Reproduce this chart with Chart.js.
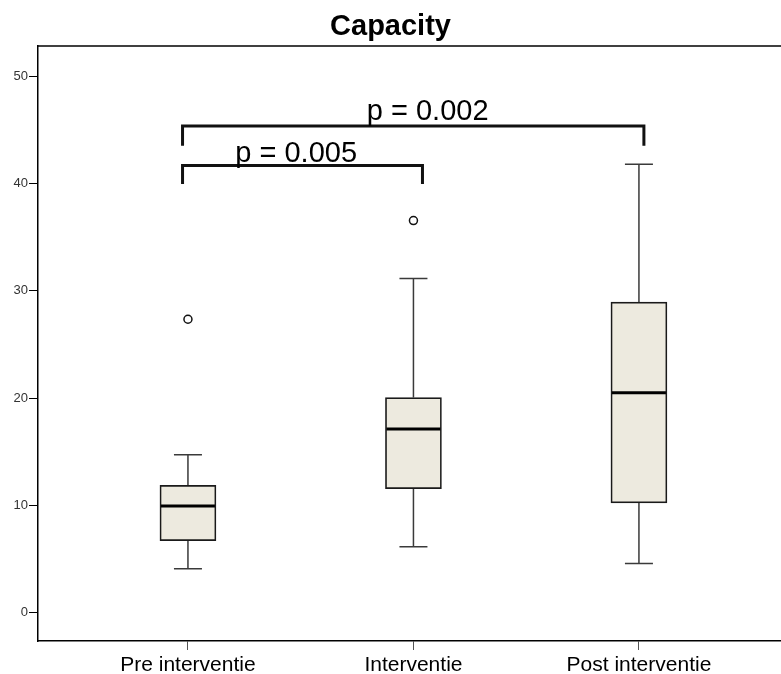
<!DOCTYPE html>
<html>
<head>
<meta charset="utf-8">
<script src="https://cdn.jsdelivr.net/npm/chart.js@4.4.1/dist/chart.umd.min.js"></script>
<style>
    body { margin: 0; background: #fff; }
    #wrap { width: 781px; height: 674px; }
</style>
</head>
<body>
<div id="wrap"><canvas id="capacityChart" width="781" height="674"></canvas></div>
<script>
const categories = ['Pre interventie', 'Interventie', 'Post interventie'];
const whiskerLow = [4.1, 6.15, 4.57];
const quartile1 = [6.71, 11.56, 10.22];
const medians = [9.94, 17.12, 20.5];
const quartile3 = [11.87, 20.04, 28.93];
const whiskerHigh = [14.72, 31.13, 41.79];
const outlierGroup = [0, 1];
const outlierValues = [27.34, 36.53];
const yTicks = [0, 10, 20, 30, 40, 50];

// significance brackets
const bracketLeft = [-0.024, -0.024];
const bracketRight = [1.04, 2.022];
const bracketTop = [41.66, 45.35];
const bracketBottom = [39.95, 43.5];
const pLabels = ['p = 0.005', 'p = 0.002'];
const pLabelX = [0.21, 0.793];
const pLabelY = [41.98, 45.92];

const fontFamily = '"Liberation Sans", Arial, Helvetica, sans-serif';
Chart.defaults.font.family = fontFamily;

const boxWidth = 56;
const capWidth = 28;

const boxplotExtras = {
    id: 'boxplotExtras',
    beforeDatasetsDraw(chart) {
        const { ctx, scales: { x, y } } = chart;
        ctx.save();
        ctx.strokeStyle = '#3a3a3a';
        ctx.lineWidth = 1.5;
        categories.forEach((_, i) => {
            const cx = x.getPixelForValue(i);
            ctx.beginPath();
            ctx.moveTo(cx, y.getPixelForValue(quartile3[i]));
            ctx.lineTo(cx, y.getPixelForValue(whiskerHigh[i]));
            ctx.moveTo(cx, y.getPixelForValue(quartile1[i]));
            ctx.lineTo(cx, y.getPixelForValue(whiskerLow[i]));
            ctx.moveTo(cx - capWidth / 2, y.getPixelForValue(whiskerHigh[i]));
            ctx.lineTo(cx + capWidth / 2, y.getPixelForValue(whiskerHigh[i]));
            ctx.moveTo(cx - capWidth / 2, y.getPixelForValue(whiskerLow[i]));
            ctx.lineTo(cx + capWidth / 2, y.getPixelForValue(whiskerLow[i]));
            ctx.stroke();
        });
        ctx.restore();
    },
    afterDatasetsDraw(chart) {
        const { ctx, chartArea, scales: { x, y } } = chart;
        ctx.save();

        ctx.strokeStyle = '#000';
        ctx.lineWidth = 3;
        medians.forEach((m, i) => {
            const cx = x.getPixelForValue(i);
            const my = y.getPixelForValue(m);
            ctx.beginPath();
            ctx.moveTo(cx - boxWidth / 2 + 1, my);
            ctx.lineTo(cx + boxWidth / 2 - 1, my);
            ctx.stroke();
        });

        ctx.strokeStyle = '#111';
        ctx.lineWidth = 3;
        ctx.lineJoin = 'miter';
        pLabels.forEach((label, i) => {
            const x1 = x.getPixelForValue(bracketLeft[i]);
            const x2 = x.getPixelForValue(bracketRight[i]);
            const top = y.getPixelForValue(bracketTop[i]);
            const bottom = y.getPixelForValue(bracketBottom[i]);
            ctx.beginPath();
            ctx.moveTo(x1, bottom);
            ctx.lineTo(x1, top);
            ctx.lineTo(x2, top);
            ctx.lineTo(x2, bottom);
            ctx.stroke();
        });

        ctx.fillStyle = '#000';
        ctx.font = '29px ' + fontFamily;
        ctx.textAlign = 'left';
        ctx.textBaseline = 'alphabetic';
        pLabels.forEach((label, i) => {
            ctx.fillText(label, x.getPixelForValue(pLabelX[i]), y.getPixelForValue(pLabelY[i]));
        });

        // frame top edge
        ctx.strokeStyle = '#000';
        ctx.lineWidth = 1.5;
        ctx.beginPath();
        ctx.moveTo(chartArea.left, chartArea.top);
        ctx.lineTo(chartArea.right, chartArea.top);
        ctx.stroke();

        ctx.restore();
    },
};

new Chart(document.getElementById('capacityChart'), {
    type: 'bar',
    data: {
        datasets: [
            {
                label: 'Capacity',
                data: categories.map((_, i) => ({ x: i, y: [quartile1[i], quartile3[i]] })),
                backgroundColor: '#edeadf',
                borderColor: '#1a1a1a',
                borderWidth: 1.7,
                borderSkipped: false,
                barThickness: boxWidth,
            },
            {
                type: 'scatter',
                label: 'Outliers',
                data: outlierGroup.map((g, i) => ({ x: g, y: outlierValues[i] })),
                pointRadius: 4,
                pointBackgroundColor: '#fff',
                pointBorderColor: '#111',
                pointBorderWidth: 1.5,
            },
        ],
    },
    options: {
        responsive: false,
        animation: false,
        events: [],
        // the outlier points would otherwise add auto padding round the plot
        layout: { padding: 0, autoPadding: false },
        plugins: {
            legend: { display: false },
            tooltip: { enabled: false },
            title: {
                display: true,
                text: 'Capacity',
                color: '#000',
                font: { size: 29, weight: 'bold', family: fontFamily },
                padding: { top: 10, bottom: 1.2 },
            },
        },
        scales: {
            x: {
                type: 'linear',
                min: -0.665,
                max: 2.63,
                offset: false,
                afterBuildTicks: (scale) => {
                    scale.ticks = categories.map((_, i) => ({ value: i }));
                },
                afterFit: (scale) => {
                    scale.height = 33;
                    scale.paddingLeft = 0;
                    scale.paddingRight = 0;
                },
                ticks: {
                    callback: (value) => categories[value],
                    color: '#000',
                    font: { size: 21 },
                    padding: 3,
                    maxRotation: 0,
                    autoSkip: false,
                },
                grid: {
                    drawOnChartArea: false,
                    offset: false,
                    tickLength: 9,
                    color: '#555',
                    lineWidth: 1,
                },
                border: { display: true, color: '#000', width: 1.5 },
            },
            y: {
                min: -2.64,
                max: 52.8,
                afterBuildTicks: (scale) => {
                    scale.ticks = yTicks.map((v) => ({ value: v }));
                },
                afterFit: (scale) => {
                    scale.width = 38;
                    scale.paddingTop = 0;
                    scale.paddingBottom = 0;
                },
                ticks: {
                    color: '#333',
                    font: { size: 13 },
                    padding: 1,
                },
                grid: {
                    drawOnChartArea: false,
                    tickLength: 9,
                    color: '#000',
                    lineWidth: 1,
                },
                border: { display: true, color: '#000', width: 1.5 },
            },
        },
    },
    plugins: [boxplotExtras],
});
</script>
</body>
</html>
